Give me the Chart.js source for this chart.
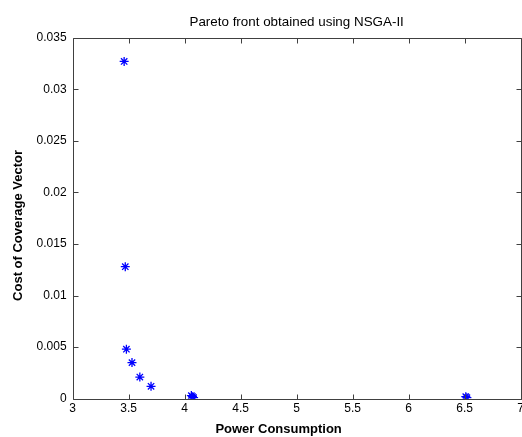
<!DOCTYPE html>
<html>
<head>
<meta charset="utf-8">
<script src="https://cdn.jsdelivr.net/npm/chart.js@4.4.0/dist/chart.umd.min.js"></script>
<style>
  html, body { margin: 0; padding: 0; background: #fff; }
  #outer { width: 522px; height: 437px; overflow: hidden; }
  #wrap { width: 527px; height: 437px; }
</style>
</head>
<body>
<div id="outer"><div id="wrap"><canvas id="myChart"></canvas></div></div>
<script>
// values
var powerValues = [3.46, 3.47, 3.48, 3.53, 3.60, 3.70, 4.06, 4.07, 4.08, 6.51, 6.52];
var costValues  = [0.0327, 0.0128, 0.0048, 0.0035, 0.0021, 0.0012, 0.0003, 0.0002, 0.0001, 0.0002, 0.0001];
var xTickLabels = ["3", "3.5", "4", "4.5", "5", "5.5", "6", "6.5", "7"];
var yTickLabels = ["0", "0.005", "0.01", "0.015", "0.02", "0.025", "0.03", "0.035"];

var points = [];
for (var i = 0; i < powerValues.length; i++) {
    points.push({x: powerValues[i], y: costValues[i]});
}

// matlab style box with inward ticks
var boxPlugin = {
    id: "matlabBox",
    afterDraw: function(chart) {
        var ctx = chart.ctx, a = chart.chartArea;
        var xs = chart.scales.x, ys = chart.scales.y;
        var l = Math.round(a.left) + 0.5, r = Math.round(a.right) + 0.5;
        var t = Math.round(a.top) + 0.5, b = Math.round(a.bottom) + 0.5;
        ctx.save();
        ctx.strokeStyle = "#404040";
        ctx.lineWidth = 1;
        ctx.beginPath();
        ctx.moveTo(l, t); ctx.lineTo(r, t); ctx.lineTo(r, b); ctx.lineTo(l, b); ctx.closePath();
        xs.ticks.forEach(function(tk) {
            var px = Math.round(xs.getPixelForValue(tk.value)) + 0.5;
            ctx.moveTo(px, b); ctx.lineTo(px, b - 5);
            ctx.moveTo(px, t); ctx.lineTo(px, t + 5);
        });
        ys.ticks.forEach(function(tk) {
            var py = Math.round(ys.getPixelForValue(tk.value)) + 0.5;
            ctx.moveTo(l, py); ctx.lineTo(l + 5, py);
            ctx.moveTo(r, py); ctx.lineTo(r - 5, py);
        });
        ctx.stroke();
        ctx.restore();
    }
};

new Chart("myChart", {
    type: "scatter",
    data: {
        datasets: [{
            data: points,
            pointStyle: "star",
            radius: 4.5,
            borderWidth: 1.3,
            borderColor: "#0000ff",
            backgroundColor: "#0000ff"
        }]
    },
    options: {
        responsive: true,
        maintainAspectRatio: false,
        animation: false,
        layout: { padding: { left: 6, right: 0, bottom: 0 } },
        plugins: {
            legend: { display: false },
            tooltip: { enabled: false },
            title: {
                display: true,
                fullSize: false,
                text: "Pareto front obtained using NSGA-II",
                color: "#000",
                font: { family: "Liberation Sans", size: 13.4, weight: "normal" },
                padding: { top: 14, bottom: 7.6 }
            }
        },
        scales: {
            x: {
                type: "linear",
                min: 3, max: 7,
                grid: { display: false, drawTicks: false, tickLength: 0 },
                border: { display: false },
                ticks: {
                    stepSize: 0.5,
                    color: "#000",
                    padding: 3,
                    maxRotation: 0,
                    font: { family: "Liberation Sans", size: 12 },
                    callback: function(v, idx) { return xTickLabels[idx]; }
                },
                title: {
                    display: true,
                    text: "Power Consumption          ",
                    color: "#000",
                    font: { family: "Liberation Sans", size: 13, weight: "bold" },
                    padding: { top: 2.3, bottom: 0 }
                }
            },
            y: {
                type: "linear",
                min: 0, max: 0.035,
                grid: { display: false, drawTicks: false, tickLength: 0 },
                border: { display: false },
                ticks: {
                    stepSize: 0.005,
                    color: "#000",
                    padding: 6,
                    font: { family: "Liberation Sans", size: 12 },
                    callback: function(v, idx) { return yTickLabels[idx]; }
                },
                title: {
                    display: true,
                    text: "Cost of Coverage Vector    ",
                    color: "#000",
                    font: { family: "Liberation Sans", size: 13, weight: "bold" },
                    padding: { top: 5, bottom: 4 }
                }
            }
        }
    },
    plugins: [boxPlugin]
});
</script>
</body>
</html>
